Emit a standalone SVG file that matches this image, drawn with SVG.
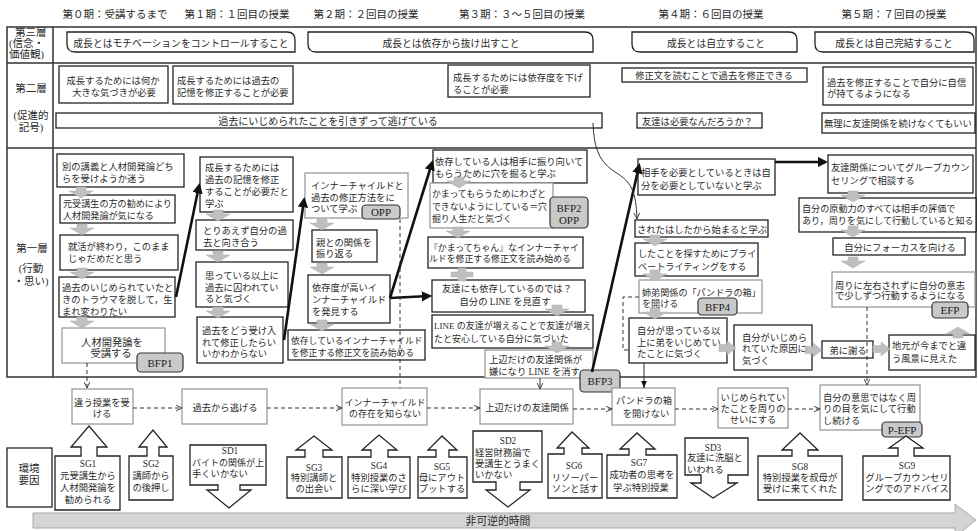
<svg xmlns="http://www.w3.org/2000/svg" width="978" height="531" viewBox="0 0 978 531">
<style>
text{font-family:"Liberation Serif","Noto Sans CJK JP",serif;fill:#2a2a2a;font-size:9.3px}
.c{text-anchor:middle}
.h{font-size:10.5px}
.lb{font-size:10.5px}
.t3{font-size:9.8px}
.b rect,.b path{fill:#fff;stroke:#222;stroke-width:1.3}
.g rect{fill:#fff;stroke:#9c9c9c;stroke-width:1.3}
.bd rect{fill:#c9c9c9;stroke:#333;stroke-width:1.2}
.bd text{font-size:11px;text-anchor:middle;fill:#222}
.ga{fill:#bfbfbf;stroke:#adadad;stroke-width:0.5}
.th{fill:none;stroke:#111;stroke-width:2.6;marker-end:url(#ah)}
.ds{fill:none;stroke:#333;stroke-width:1;stroke-dasharray:4 3}
.ln{fill:none;stroke:#333;stroke-width:1}
.env path{fill:#fff;stroke:#222;stroke-width:1.3}
</style>
<defs>
<marker id="ah" viewBox="0 0 10 10" refX="7" refY="5" markerWidth="4" markerHeight="4" orient="auto"><path d="M0,0L10,5L0,10Z" fill="#111"/></marker>
<marker id="ov" viewBox="0 0 10 10" refX="9.5" refY="5" markerWidth="7" markerHeight="7" orient="auto" markerUnits="userSpaceOnUse"><path d="M1,1L9.5,5L1,9" fill="none" stroke="#333" stroke-width="1.3" stroke-dasharray="none"/></marker>
<marker id="fa" viewBox="0 0 10 10" refX="10" refY="5" markerWidth="7" markerHeight="7" orient="auto" markerUnits="userSpaceOnUse"><path d="M0,1L10,5L0,9Z" fill="#111"/></marker>
<path id="gd" d="M-5,0H5V4H12L0,11L-12,4H-5Z"/>
<path id="gr" d="M0,-3.5H8V-7L17,0L8,7V3.5H0Z"/>
<path id="gu" d="M-5,0H5V-4H12L0,-11L-12,-4H-5Z"/>
</defs>
<rect width="978" height="531" fill="#fff"/>

<!-- headers -->
<g id="headers">
<text class="h c" x="115" y="18">第０期：受講するまで</text>
<text class="h c" x="237" y="18">第１期：１回目の授業</text>
<text class="h c" x="366" y="18">第２期：２回目の授業</text>
<text class="h c" x="522" y="18">第３期：３～５回目の授業</text>
<text class="h c" x="711" y="18">第４期：６回目の授業</text>
<text class="h c" x="894" y="18">第５期：７回目の授業</text>
</g>

<!-- frame -->
<g id="frame" fill="none" stroke="#333" stroke-width="1.5">
<rect x="7" y="27" width="969" height="350"/>
<path d="M7,63H976M7,148H976M53,27V377"/>
</g>
<g id="layer-labels">
<text class="lb" x="15" y="36">第三層</text>
<text class="lb" x="9" y="46.5">(信念・</text>
<text class="lb" x="9" y="58">価値観)</text>
<text class="lb c" x="31" y="92">第二層</text>
<text class="lb c" x="31" y="119">(促進的</text>
<text class="lb c" x="31" y="131">記号)</text>
<text class="lb c" x="32" y="252">第一層</text>
<text class="lb c" x="31" y="272">(行動</text>
<text class="lb c" x="31" y="285">・思い)</text>
</g>

<!-- third layer -->
<g id="l3-1" class="b"><path d="M67,32H287Q295,32 295,40V52H75Q67,52 67,44Z"/><text class="c t3" x="181" y="46.5">成長とはモチベーションをコントロールすること</text></g>
<g id="l3-2" class="b"><path d="M308,32H585Q593,32 593,40V52H316Q308,52 308,44Z"/><text class="c t3" x="451" y="46.5">成長とは依存から抜け出すこと</text></g>
<g id="l3-3" class="b"><path d="M632,32H789Q797,32 797,40V52H640Q632,52 632,44Z"/><text class="c t3" x="716" y="46.5">成長とは自立すること</text></g>
<g id="l3-4" class="b"><path d="M815,32H966Q974,32 974,40V52H823Q815,52 815,44Z"/><text class="c t3" x="894" y="46.5">成長とは自己完結すること</text></g>

<!-- second layer -->
<g id="l2-1" class="b"><rect x="59" y="66" width="109" height="37"/><text class="c" x="113" y="84">成長するためには何か</text><text class="c" x="114" y="96">大きな気づきが必要</text></g>
<g id="l2-2" class="b"><rect x="173" y="66" width="120" height="38"/><text x="177" y="84">成長するためには過去の</text><text x="177" y="96">記憶を修正することが必要</text></g>
<g id="l2-3" class="b"><rect x="448" y="65" width="142" height="32"/><text x="453" y="81">成長するためには依存度を下げ</text><text x="453" y="93">ることが必要</text></g>
<g id="l2-4" class="b"><rect x="622" y="68" width="185" height="14"/><text class="c" x="714" y="79">修正文を読むことで過去を修正できる</text></g>
<g id="l2-5" class="b"><rect x="823" y="67" width="150" height="38"/><text x="827" y="85.5">過去を修正することで自分に自信</text><text x="827" y="97">が持てるようになる</text></g>
<g id="l2-6" class="b"><rect x="56" y="113" width="546" height="15"/><text class="c" x="328" y="124.5" style="font-size:10px">過去にいじめられたことを引きずって逃げている</text></g>
<g id="l2-7" class="b"><rect x="637" y="113" width="125" height="15"/><text x="642" y="124.5">友達は必要なんだろうか？</text></g>
<g id="l2-8" class="b"><rect x="822" y="113" width="153" height="20"/><text x="824" y="126.5">無理に友達関係を続けなくてもいい</text></g>

<!-- first layer col0 -->
<g id="a1" class="b"><rect x="57" y="154" width="127" height="33"/><text x="62" y="169.5">別の講義と人材開発論どち</text><text x="62" y="181.5">らを受けようか迷う</text></g>
<g id="a2" class="b"><rect x="60" y="195" width="115" height="28"/><text x="63" y="206.5" style="font-size:9.1px">元受講生の方の勧めにより</text><text x="63" y="218.5" style="font-size:9.1px">人材開発論が気になる</text></g>
<g id="a3" class="b"><rect x="60" y="235" width="118" height="35"/><text x="68" y="250">就活が終わり，このまま</text><text x="68" y="262">じゃだめだと思う</text></g>
<g id="a4" class="b"><rect x="59" y="277" width="116" height="40"/><text x="62" y="290.5">過去のいじめられていたと</text><text x="62" y="302.5">きのトラウマを脱して，生</text><text x="62" y="314.5">まれ変わりたい</text></g>
<g id="a5" class="g"><rect x="62" y="328" width="103" height="35"/><text class="c" x="112" y="345.5" style="font-size:10.3px">人材開発論を</text><text class="c" x="111" y="357" style="font-size:10.3px">受講する</text></g>
<g id="bfp1" class="bd"><rect x="137" y="353" width="46" height="19" rx="4"/><text x="160" y="366.5">BFP1</text></g>

<!-- col1 -->
<g id="b1" class="b"><rect x="200" y="157" width="93" height="55"/><text x="205" y="171">成長するためには</text><text x="205" y="183">過去の記憶を修正</text><text x="205" y="195">することが必要だと</text><text x="205" y="207">学ぶ</text></g>
<g id="b2" class="b"><rect x="196" y="220" width="97" height="30"/><text x="203" y="233.5">とりあえず自分の過</text><text x="203" y="245.5">去と向き合う</text></g>
<g id="b3" class="b"><rect x="196" y="262" width="92" height="45"/><text x="205" y="278.5">思っている以上に</text><text x="205" y="290.5">過去に囚われてい</text><text x="205" y="302">ると気づく</text></g>
<g id="b4" class="b"><rect x="197" y="317" width="86" height="46"/><text x="202" y="333.5">過去をどう受け入</text><text x="202" y="345.5">れて修正したらい</text><text x="202" y="357">いかわからない</text></g>

<!-- col2 -->
<g id="c1" class="g"><rect x="305" y="173" width="103" height="45"/><text x="311" y="188.5">インナーチャイルドと</text><text x="311" y="200.5">過去の修正方法をに</text><text x="311" y="212">ついて学ぶ</text></g>
<g id="opp1" class="bd"><rect x="362" y="205" width="38" height="14" rx="4"/><text x="381" y="216">OPP</text></g>
<g id="c2" class="b"><rect x="312" y="230" width="65" height="32"/><text x="316" y="245.5">親との関係を</text><text x="316" y="257">振り返る</text></g>
<g id="c3" class="b"><rect x="308" y="275" width="82" height="48"/><text x="312" y="290.5">依存度が高いイ</text><text x="312" y="302.5">ンナーチャイルド</text><text x="312" y="315">を発見する</text></g>
<g id="c4" class="b"><rect x="288" y="330" width="137" height="30"/><text x="291" y="343.5" style="font-size:8.8px">依存しているインナーチャイルド</text><text x="291" y="355.5" style="font-size:8.8px">を修正する修正文を読み始める</text></g>

<!-- col3 -->
<g id="d1" class="b"><rect x="433" y="150" width="154" height="33"/><text x="435" y="164.5">依存している人は相手に振り向いて</text><text x="435" y="176.5">もらうために穴を掘ると学ぶ</text></g>
<g id="d2" class="g"><rect x="430" y="183" width="123" height="45"/><text x="432" y="197" style="font-size:8.9px">かまってもらうためにわざと</text><text x="432" y="209.5" style="font-size:8.9px">できないようにしている＝穴</text><text x="432" y="222" style="font-size:8.9px">掘り人生だと気づく</text></g>
<g id="bfp2" class="bd"><rect x="550" y="197" width="38" height="31" rx="4"/><text x="569" y="211.5">BFP2</text><text x="569" y="224">OPP</text></g>
<g id="d3" class="b"><rect x="428" y="237" width="155" height="31"/><text x="429" y="250.5" style="font-size:8.9px">『かまってちゃん』なインナーチャイ</text><text x="429" y="262" style="font-size:8.9px">ルドを修正する修正文を読み始める</text></g>
<g id="d4" class="b"><rect x="432" y="280" width="153" height="32"/><text class="c" x="507" y="292">友達にも依存しているのでは？</text><text class="c" x="505" y="305">自分の LINE を見直す</text></g>
<g id="d5" class="b"><rect x="432" y="315" width="161" height="33"/><text x="434" y="329" style="font-size:9px">LINE の友達が増えることで友達が増え</text><text x="434" y="341.5" style="font-size:9px">たと安心している自分に気づいた</text></g>
<g id="d6" class="g"><rect x="485" y="350" width="108" height="28"/><text x="489" y="362.5">上辺だけの友達関係が</text><text x="489" y="375">嫌になり LINE を消す</text></g>
<g id="bfp3" class="bd"><rect x="580" y="370" width="40" height="22" rx="4"/><text x="600" y="385">BFP3</text></g>

<!-- col4 -->
<g id="e1" class="b"><rect x="638" y="159" width="137" height="36"/><text x="641" y="175.5">相手を必要としているときは自</text><text x="641" y="188.5">分を必要としていないと学ぶ</text></g>
<g id="e2" class="b"><rect x="635" y="220" width="133" height="17"/><text x="637" y="232.5">されたはしたから始まると学ぶ</text></g>
<g id="e3" class="b"><rect x="635" y="243" width="123" height="33"/><text x="638" y="256.5" style="font-size:9.1px">したことを探すためにプライ</text><text x="638" y="270" style="font-size:9.1px">ベートライティングをする</text></g>
<g id="e4" class="g"><rect x="639" y="280" width="123" height="33"/><text x="642" y="295.5" style="font-size:9.1px">姉弟関係の「パンドラの箱」</text><text x="642" y="306.5" style="font-size:9.1px">を開ける</text></g>
<g id="bfp4" class="bd"><rect x="698" y="298" width="39" height="17" rx="4"/><text x="717.5" y="311">BFP4</text></g>
<g id="e5" class="b"><rect x="629" y="318" width="98" height="45"/><text x="637" y="333.5">自分が思っている以</text><text x="637" y="345.5">上に弟をいじめてい</text><text x="637" y="357">たことに気づく</text></g>
<g id="e6" class="b"><rect x="734" y="325" width="78" height="45"/><text x="742" y="340.5">自分がいじめら</text><text x="742" y="352">れていた原因に</text><text x="742" y="363.5">気づく</text></g>
<g id="e7" class="b"><rect x="822" y="341" width="51" height="17"/><text class="c" x="848" y="353.5">弟に謝る</text></g>
<g id="e8" class="b"><rect x="889" y="335" width="86" height="35"/><text x="892" y="348.5">地元が今までと違</text><text x="892" y="361.5">う風景に見えた</text></g>

<!-- col5 -->
<g id="f1" class="b"><rect x="828" y="155" width="145" height="38"/><text x="831" y="171">友達関係についてグループカウン</text><text x="831" y="184">セリングで相談する</text></g>
<g id="f2" class="b"><rect x="799" y="198" width="177" height="34"/><text x="802" y="211.5" style="font-size:9.1px">自分の原動力のすべては相手の評価で</text><text x="802" y="224" style="font-size:9.1px">あり，周りを気にして行動していると知る</text></g>
<g id="f3" class="b"><rect x="833" y="238" width="132" height="17"/><text class="c" x="900" y="250.5">自分にフォーカスを向ける</text></g>
<g id="f4" class="g"><rect x="832" y="272" width="143" height="35"/><text x="835" y="288.5">周りに左右されずに自分の意志</text><text x="835" y="299">で少しずつ行動するようになる</text></g>
<g id="efp" class="bd"><rect x="932" y="302" width="36" height="16" rx="4"/><text x="950" y="314">EFP</text></g>

<!-- gray block arrows -->
<g id="gray-arrows" class="ga">
<use href="#gd" x="81" y="187"/>
<use href="#gd" x="82" y="224"/>
<use href="#gd" x="82" y="268"/>
<use href="#gd" x="82" y="317"/>
<use href="#gd" x="218" y="210"/>
<use href="#gd" x="218" y="251"/>
<use href="#gd" x="218" y="307"/>
<use href="#gd" x="322" y="219"/>
<use href="#gd" x="322" y="263"/>
<use href="#gd" x="322" y="320"/>
<use href="#gd" x="459" y="177"/>
<use href="#gd" x="458" y="227"/>
<path d="M458,268H466V272H473V277H466V281H458V277H451V272H458Z"/>
<use href="#gd" x="557" y="305"/>
<use href="#gd" x="557" y="342"/>
<use href="#gd" x="655" y="235"/>
<use href="#gd" x="655" y="270"/>
<use href="#gd" x="655" y="308"/>
<use href="#gr" x="719" y="348"/>
<use href="#gr" x="805" y="350"/>
<use href="#gr" x="873" y="349"/>
<use href="#gd" x="853" y="191"/>
<use href="#gd" x="853" y="226"/>
<use href="#gd" x="853" y="257"/>
<use href="#gu" x="958" y="338"/>
</g>

<!-- environment row -->
<g id="s1" class="g"><rect x="72" y="389" width="61" height="35"/><text class="c" x="102" y="405.5">違う授業を受</text><text class="c" x="102" y="417">ける</text></g>
<g id="s2" class="g"><rect x="182" y="389" width="85" height="35"/><text class="c" x="225" y="410.5">過去から逃げる</text></g>
<g id="s3" class="g"><rect x="342" y="388" width="85" height="37"/><text class="c" x="385" y="405.5" style="font-size:9px">インナーチャイルド</text><text class="c" x="385" y="417" style="font-size:9px">の存在を知らない</text></g>
<g id="s4" class="g"><rect x="480" y="389" width="93" height="35"/><text class="c" x="527" y="410.5">上辺だけの友達関係</text></g>
<g id="s5" class="g"><rect x="612" y="388" width="63" height="37"/><text class="c" x="644" y="404">パンドラの箱</text><text class="c" x="646" y="416.5">を開けない</text></g>
<g id="s6" class="g"><rect x="718" y="388" width="70" height="40"/><text class="c" x="753" y="400.5">いじめられてい</text><text class="c" x="753" y="411.5">たことを周りの</text><text class="c" x="753" y="422.5">せいにする</text></g>
<g id="s7" class="g"><rect x="820" y="385" width="100" height="45"/><text x="823" y="400.5">自分の意思ではなく周</text><text x="823" y="412">りの目を気にして行動</text><text x="823" y="423.5">し続ける</text></g>
<g id="pefp" class="bd"><rect x="882" y="422" width="40" height="15" rx="4"/><text x="902" y="433.5">P-EFP</text></g>

<!-- environment factors -->
<g id="env" class="b"><rect x="7" y="448" width="45" height="59"/><text class="c lb" x="29" y="472">環境</text><text class="c lb" x="29" y="484">要因</text></g>
<g id="sg1" class="env"><path d="M55,456H81V447H71L89,426L107,447H97V456H120V510H55Z"/><text class="c" x="88" y="467">SG1</text><text class="c" x="88" y="478.5">元受講生から</text><text class="c" x="88" y="490.5">人材開発論を</text><text class="c" x="88" y="502.5">勧められる</text></g>
<g id="sg2" class="env"><path d="M129,456H147V447H139L153,430L167,447H159V456H173V500H129Z"/><text class="c" x="151" y="467">SG2</text><text class="c" x="151" y="478.5">講師から</text><text class="c" x="151" y="490.5">の後押し</text></g>
<g id="sd1" class="env"><path d="M190,445H266V485H240V490H251L229,508L207,490H218V485H190Z"/><text class="c" x="230" y="454">SD1</text><text x="192" y="466" style="font-size:9px">バイトの関係が上</text><text x="192" y="477">手くいかない</text></g>
<g id="sg3" class="env"><path d="M287,457H305V450H296L314,436L332,450H323V457H342V498H287Z"/><text class="c" x="314" y="470.5">SG3</text><text class="c" x="314" y="481">特別講師と</text><text class="c" x="314" y="492">の出会い</text></g>
<g id="sg4" class="env"><path d="M348,457H371V450H362L379,435L397,450H388V457H410V498H348Z"/><text class="c" x="379" y="469">SG4</text><text class="c" x="379" y="480.5">特別授業のさ</text><text class="c" x="379" y="491.5">らに深い学び</text></g>
<g id="sg5" class="env"><path d="M418,457H436V450H428L442,436L457,450H449V457H467V498H418Z"/><text class="c" x="442" y="470">SG5</text><text class="c" x="442" y="481">母にアウト</text><text class="c" x="442" y="492">プットする</text></g>
<g id="sd2" class="env"><path d="M473,431H542V482H520V490H530L508,507L486,490H496V482H473Z"/><text class="c" x="508" y="444">SD2</text><text x="475" y="456">経営財務論で</text><text x="475" y="467">受講生とうまく</text><text x="475" y="478">いかない</text></g>
<g id="sg6" class="env"><path d="M548,454H564V448H557L572,432L589,448H582V454H602V498H548Z"/><text class="c" x="574" y="469">SG6</text><text class="c" x="575" y="480.5">リソーパー</text><text class="c" x="575" y="491.5">ソンと話す</text></g>
<g id="sg7" class="env"><path d="M607,455H629V449H620L637,433L655,449H646V455H677V498H607Z"/><text class="c" x="639" y="466">SG7</text><text class="c" x="642" y="477.5">成功者の思考を</text><text class="c" x="641" y="491">学ぶ特別授業</text></g>
<g id="sd3" class="env"><path d="M685,438H748V475H728V483H737L713,498L691,483H701V475H685Z"/><text class="c" x="713" y="451">SD3</text><text x="687" y="461">友達に洗脳と</text><text x="687" y="473">いわれる</text></g>
<g id="sg8" class="env"><path d="M758,456H792V450H782L800,433L818,450H808V456H842V500H758Z"/><text class="c" x="800" y="470">SG8</text><text class="c" x="800" y="481">特別授業を叔母が</text><text class="c" x="800" y="491.5">受けに来てくれた</text></g>
<g id="sg9" class="env"><path d="M863,456H898V448H889L906,436L923,448H914V456H950V500H863Z"/><text class="c" x="907" y="469">SG9</text><text class="c" x="907" y="481">グループカウンセリ</text><text class="c" x="907" y="491.5">ングでのアドバイス</text></g>

<!-- time arrow -->
<g id="time">
<path d="M33,513H955V504L976,520L955,537V528H33Z" fill="#d4d4d4" stroke="#a8a8a8" stroke-width="1"/>
<text class="c" x="498" y="524.5" style="font-size:10.8px">非可逆的時間</text>
</g>

<!-- connectors -->
<g id="connectors">
<path class="th" d="M176,297L199,186"/>
<path class="th" d="M284,340L304,200"/>
<path class="th" d="M390,298L432,163"/>
<path class="th" d="M390,298L429,296"/>
<path class="th" d="M592,372L639,166"/>
<path class="th" d="M775,162L825,162"/>
<path class="ds" d="M87,363V388" marker-end="url(#ov)"/>
<path class="ds" d="M133,408H182" marker-end="url(#ov)"/>
<path class="ds" d="M267,408H342" marker-end="url(#ov)"/>
<path class="ds" d="M427,408H480" marker-end="url(#ov)"/>
<path class="ds" d="M573,409H612" marker-end="url(#ov)"/>
<path class="ds" d="M675,409H718" marker-end="url(#ov)"/>
<path class="ds" d="M788,409H820" marker-end="url(#ov)"/>
<path class="ds" d="M867,307V385" marker-end="url(#ov)"/>
<path class="ds" d="M400,219V388"/>
<path class="ds" d="M639,297H623V350H629"/>
<path class="ln" d="M540,378V389" marker-end="url(#ov)"/>
<path class="ln" d="M644,363V388" marker-end="url(#fa)"/>
<path class="ln" d="M593,123C594,150 600,162 615,172C632,182 636,192 637,219" marker-end="url(#ov)"/>
</g>
</svg>
